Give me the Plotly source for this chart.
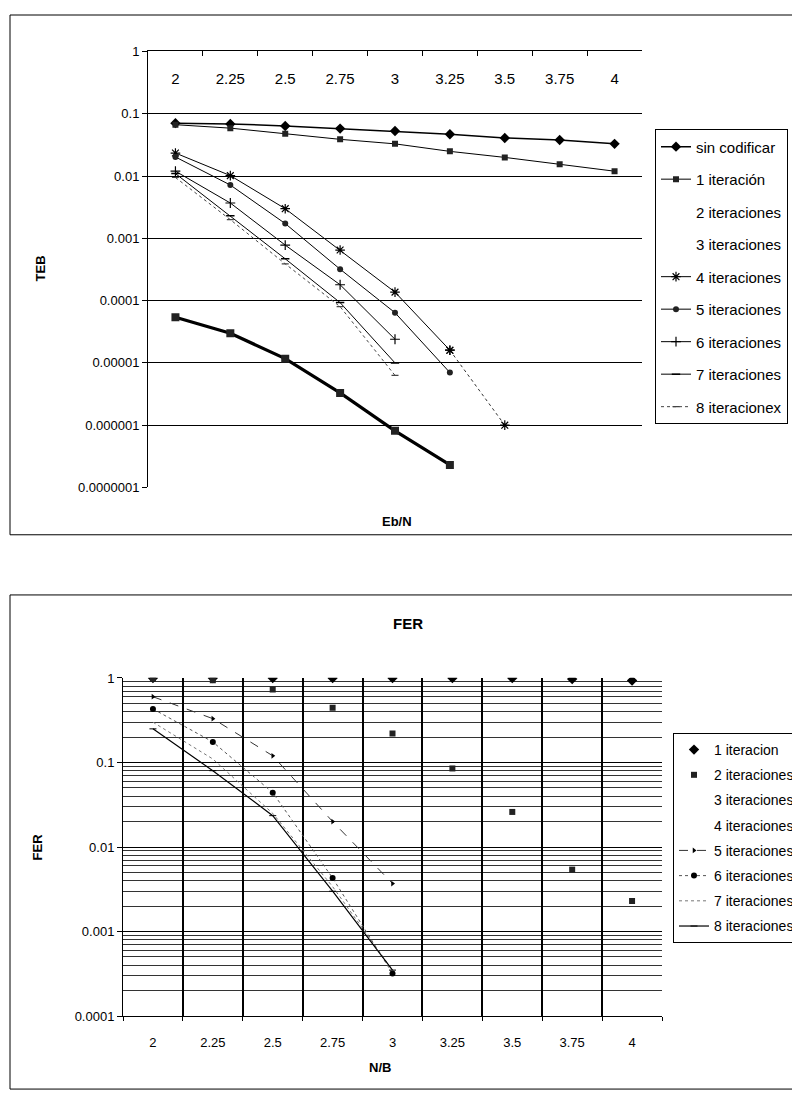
import plotly.graph_objects as go

# page is rendered with an 8px body margin; size the figure so it fits the window
OFF = 8
W, H = 792, 1094
FONT = "Liberation Sans, Arial, sans-serif"

# ---------------- data: top chart (TEB vs Eb/N) ----------------
categories = ["2", "2.25", "2.5", "2.75", "3", "3.25", "3.5", "3.75", "4"]

teb_sin_codificar = [0.071, 0.069, 0.064, 0.058, 0.053, 0.047, 0.041, 0.038, 0.033]
teb_1_iter = [0.067, 0.059, 0.048, 0.039, 0.033, 0.025, 0.020, 0.0155, 0.012]
teb_thick = [5.4e-5, 3.0e-5, 1.17e-5, 3.3e-6, 8.1e-7, 2.3e-7, None, None, None]
teb_4_iter = [0.0235, 0.0102, 0.0030, 0.00065, 0.000137, 1.6e-5, 1.0e-6, None, None]
teb_5_iter = [0.0203, 0.0072, 0.00173, 0.00032, 6.4e-5, 7.0e-6, None, None, None]
teb_6_iter = [0.012, 0.0037, 0.00078, 0.00018, 2.4e-5, None, None, None, None]
teb_7_iter = [0.011, 0.0023, 0.00047, 9.3e-5, 1.0e-5, None, None, None, None]
teb_8_iter = [0.0095, 0.0020, 0.00039, 8.0e-5, 6.3e-6, None, None, None, None]
teb_empty = [None] * 9
teb_ticks = [1, 0.1, 0.01, 0.001, 0.0001, 0.00001, 0.000001, 0.0000001]
teb_ticktext = ["1", "0.1", "0.01", "0.001", "0.0001", "0.00001", "0.000001", "0.0000001"]

# ---------------- data: bottom chart (FER vs N/B) ----------------
fer_1_iter = [1.0, 1.0, 1.0, 1.0, 1.0, 1.0, 1.0, 0.97, 0.93]
fer_2_iter = [0.98, 0.94, 0.73, 0.445, 0.22, 0.085, 0.026, 0.0054, 0.0023]
fer_5_iter = [0.6, 0.33, 0.12, 0.02, 0.0037, None, None, None, None]
fer_6_iter = [0.43, 0.175, 0.044, 0.0043, 0.00032, None, None, None, None]
fer_7_iter = [0.30, 0.11, 0.025, 0.0034, 0.00035, None, None, None, None]
fer_8_iter = [0.25, 0.08, 0.0235, 0.0030, 0.00035, None, None, None, None]
fer_empty = [None] * 9
fer_ticks = [1, 0.1, 0.01, 0.001, 0.0001]
fer_ticktext = ["1", "0.1", "0.01", "0.001", "0.0001"]


def px(x):
    return (x - OFF) / W


def py(y):
    return 1 - (y - OFF) / H


fig = go.Figure()

# ---- top traces ----
def top(name, y, group, **kw):
    fig.add_trace(go.Scatter(x=categories, y=y, name=name, xaxis="x", yaxis="y",
                             legend="legend", legendgroup=group, **kw))


top("sin codificar", teb_sin_codificar, "t0", mode="lines+markers",
    line=dict(color="black", width=1.5), marker=dict(symbol="diamond", size=8, color="black"))
top("1 iteración", teb_1_iter, "t1", mode="lines+markers",
    line=dict(color="black", width=1), marker=dict(symbol="square", size=6, color="#222"))
top("2 iteraciones", teb_empty, "t2", mode="lines", line=dict(color="rgba(0,0,0,0)", width=1))
top("3 iteraciones", teb_empty, "t3", mode="lines", line=dict(color="rgba(0,0,0,0)", width=1))
top("4 iteraciones", teb_4_iter[:6] + [None] * 3, "t4", mode="lines+markers",
    line=dict(color="black", width=1), marker=dict(symbol="asterisk-open", size=8, color="black", line=dict(width=1.2, color="black")))
top("5 iteraciones", teb_5_iter, "t5", mode="lines+markers",
    line=dict(color="black", width=1), marker=dict(symbol="circle", size=6, color="#222"))
top("6 iteraciones", teb_6_iter, "t6", mode="lines+markers",
    line=dict(color="black", width=1), marker=dict(symbol="cross-thin-open", size=7, color="black", line=dict(width=1.2, color="black")))
top("7 iteraciones", teb_7_iter, "t7", mode="lines+markers",
    line=dict(color="black", width=1), marker=dict(symbol="line-ew-open", size=6, color="black", line=dict(width=1.5, color="black")))
top("8 iteracionex", teb_8_iter, "t8", mode="lines+markers",
    line=dict(color="#444", width=1, dash="dot"), marker=dict(symbol="line-ew-open", size=5, color="#444", line=dict(width=1.2, color="#444")))
# dotted continuation of 4 iteraciones
top("4 iteraciones", [None] * 5 + teb_4_iter[5:], "t4b", mode="lines+markers", showlegend=False,
    line=dict(color="#333", width=1, dash="dot"), marker=dict(symbol="asterisk-open", size=8, color="black", line=dict(width=1.2, color="black")))
# thick series with squares
top("2 iteraciones", teb_thick, "t2b", mode="lines+markers", showlegend=False,
    line=dict(color="black", width=3.2), marker=dict(symbol="square", size=8, color="#222"))

# ---- bottom traces ----
def bot(name, y, group, **kw):
    fig.add_trace(go.Scatter(x=categories, y=y, name=name, xaxis="x2", yaxis="y2",
                             legend="legend2", legendgroup=group, **kw))


bot("1 iteracion", fer_1_iter, "b1", mode="markers",
    marker=dict(symbol="diamond", size=8, color="black"))
bot("2 iteraciones", fer_2_iter, "b2", mode="markers",
    marker=dict(symbol="square", size=6, color="#222"))
bot("3 iteraciones", fer_empty, "b3", mode="lines", line=dict(color="rgba(0,0,0,0)"))
bot("4 iteraciones", fer_empty, "b4", mode="lines", line=dict(color="rgba(0,0,0,0)"))
bot("5 iteraciones", fer_5_iter, "b5", mode="lines+markers",
    line=dict(color="#333", width=1, dash="dash"), marker=dict(symbol="triangle-right", size=5, color="black"))
bot("6 iteraciones", fer_6_iter, "b6", mode="lines+markers",
    line=dict(color="#555", width=1, dash="dot"), marker=dict(symbol="circle", size=6, color="black"))
bot("7 iteraciones", fer_7_iter, "b7", mode="lines",
    line=dict(color="#777", width=1, dash="dot"))
bot("8 iteraciones", fer_8_iter, "b8", mode="lines+markers",
    line=dict(color="black", width=1.2), marker=dict(symbol="line-ew-open", size=5, color="black", line=dict(width=1, color="black")))

tick_font = dict(family=FONT, size=13, color="black")

fig.update_layout(
    width=W, height=H,
    margin=dict(l=0, r=0, t=0, b=0),
    paper_bgcolor="white", plot_bgcolor="white",
    font=dict(family=FONT, color="black"),
    xaxis=dict(domain=[px(148), px(642)], anchor="y", type="category",
               categoryorder="array", categoryarray=categories, range=[-0.5, 8.5],
               side="top", showline=True, linecolor="black", linewidth=1,
               ticks="inside", ticklen=5, tickcolor="black", tickson="boundaries",
               ticklabelposition="outside", ticklabelstandoff=-40,
               showgrid=False, zeroline=False, tickfont=dict(family=FONT, size=15, color="black")),
    yaxis=dict(domain=[py(487), py(45)], anchor="x", type="log", range=[-7, 0.002],
               tickmode="array", tickvals=teb_ticks, ticktext=teb_ticktext,
               showgrid=True, gridcolor="black", gridwidth=1,
               showline=True, linecolor="black", linewidth=1, ticks="outside", ticklen=5,
               tickcolor="black", zeroline=False, tickfont=tick_font),
    xaxis2=dict(domain=[px(123), px(662)], anchor="y2", type="category",
                categoryorder="array", categoryarray=categories, range=[-0.5, 8.5],
                showline=True, linecolor="black", linewidth=1,
                ticks="outside", ticklen=4, tickcolor="black", tickson="boundaries",
                ticklabelstandoff=14,
                showgrid=True, gridcolor="black", gridwidth=1.6, zeroline=False, tickfont=tick_font),
    yaxis2=dict(domain=[py(1023), py(680)], anchor="x2", type="log", range=[-4, 0.002],
                tickmode="array", tickvals=fer_ticks, ticktext=fer_ticktext,
                showgrid=True, gridcolor="black", gridwidth=1.2,
                minor=dict(showgrid=True, gridcolor="#333", gridwidth=1, dtick="D1", tickmode="linear"),
                showline=True, linecolor="black", linewidth=1, ticks="outside", ticklen=5,
                tickcolor="black", zeroline=False, tickfont=tick_font),
    legend=dict(x=px(655), y=py(124), xanchor="left", yanchor="top",
                bordercolor="black", borderwidth=1, bgcolor="white",
                font=dict(family=FONT, size=15, color="black"), tracegroupgap=10,
                itemwidth=30),
    legend2=dict(x=px(673), y=py(736), xanchor="left", yanchor="top",
                 bordercolor="black", borderwidth=1, bgcolor="white",
                 font=dict(family=FONT, size=14, color="black"), tracegroupgap=4,
                 itemwidth=30),
    showlegend=True,
)

annotations = [
    dict(text="<b>TEB</b>", x=px(40), y=py(265), textangle=-90, font=dict(size=13)),
    dict(text="<b>Eb/N</b>", x=px(397), y=py(522), font=dict(size=13)),
    dict(text="<b>FER</b>", x=px(408), y=py(625), font=dict(size=15)),
    dict(text="<b>FER</b>", x=px(37), y=py(852), textangle=-90, font=dict(size=13)),
    dict(text="<b>N/B</b>", x=px(380), y=py(1075), font=dict(size=13)),
]
for a in annotations:
    a.update(xref="paper", yref="paper", showarrow=False, xanchor="center", yanchor="middle")
    a["font"].update(family=FONT, color="black")
fig.update_layout(annotations=annotations)

fig.update_layout(shapes=[
    dict(type="rect", xref="paper", yref="paper", x0=px(10), x1=1.05, y0=py(535), y1=py(8),
         line=dict(color="black", width=1), layer="below"),
    dict(type="rect", xref="paper", yref="paper", x0=px(10), x1=1.05, y0=py(1097), y1=py(596),
         line=dict(color="black", width=1), layer="below"),
])

fig.write_html("out.html")
